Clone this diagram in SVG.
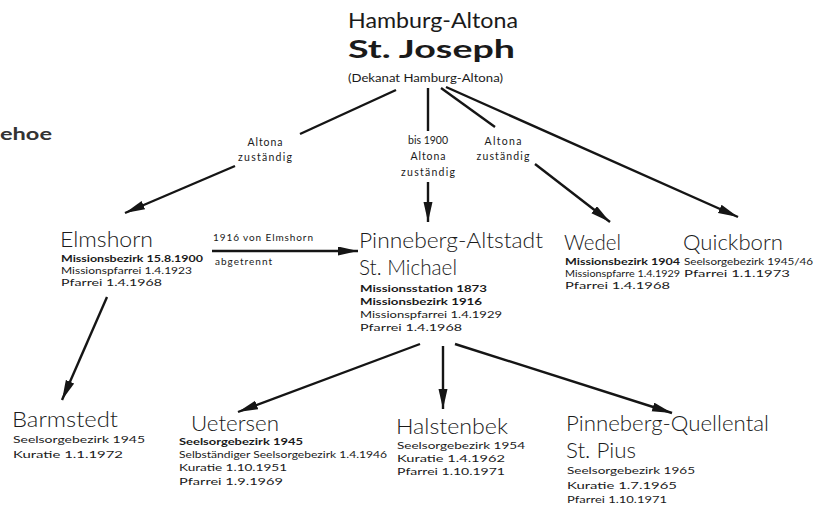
<svg xmlns="http://www.w3.org/2000/svg" width="815" height="507" viewBox="0 0 815 507">
<defs>
<marker id="ah" markerUnits="userSpaceOnUse" markerWidth="22" markerHeight="10" refX="20" refY="4.5" orient="auto">
<path d="M0,0 L20,4.5 L0,9 z" fill="#151515"/>
</marker>
<style>
text{font-family:"Lato","DejaVu Sans",sans-serif;fill:#1a1a1a}
.nm{font-size:22px;font-weight:300}
.d{font-size:10px}
.b{font-weight:bold}
.lb{font-size:10.5px;text-anchor:middle}
.c{stroke:#151515;stroke-width:2.4;fill:none}
.a{marker-end:url(#ah)}
</style>
</defs>
<rect width="815" height="507" fill="#fff"/>
<text x="0" y="140" style="font-size:17px;font-weight:bold;fill:#333" textLength="52" lengthAdjust="spacingAndGlyphs">ehoe</text>
<g id="connectors">
<line class="c" x1="396" y1="90" x2="300" y2="134"/>
<line class="c a" x1="235" y1="166" x2="125" y2="213"/>
<line class="c" x1="428" y1="88" x2="428" y2="131"/>
<line class="c a" x1="428" y1="182" x2="428" y2="222"/>
<line class="c" x1="441" y1="88" x2="495" y2="127"/>
<line class="c a" x1="535" y1="164" x2="610" y2="222"/>
<line class="c a" x1="446" y1="87" x2="738" y2="217"/>
<line class="c a" x1="212" y1="251" x2="358" y2="251"/>
<line class="c a" x1="107" y1="297" x2="62" y2="400"/>
<line class="c a" x1="420" y1="344" x2="238" y2="412"/>
<line class="c a" x1="443" y1="346" x2="443" y2="409"/>
<line class="c a" x1="455" y1="344" x2="672" y2="413"/>
<text class="lb" x="265" y="146" textLength="35">Altona</text>
<text class="lb" x="265" y="161" textLength="54">zuständig</text>
<text class="lb" x="428" y="144" textLength="40">bis 1900</text>
<text class="lb" x="428" y="160" textLength="35">Altona</text>
<text class="lb" x="428" y="176" textLength="54">zuständig</text>
<text class="lb" x="503" y="145" textLength="37">Altona</text>
<text class="lb" x="503" y="160" textLength="53">zuständig</text>
<text class="d" x="213" y="241" textLength="100">1916 von Elmshorn</text>
<text class="d" x="215" y="265" textLength="57">abgetrennt</text>
</g>
<g id="stjoseph">
<text x="348" y="28" style="font-size:22px" textLength="170" lengthAdjust="spacingAndGlyphs">Hamburg-Altona</text>
<text x="348" y="58" style="font-size:25px;font-weight:bold" textLength="167" lengthAdjust="spacingAndGlyphs">St. Joseph</text>
<text x="348" y="82" style="font-size:10.5px" textLength="155" lengthAdjust="spacingAndGlyphs">(Dekanat Hamburg-Altona)</text>
</g>
<g id="elmshorn">
<text class="nm" x="60" y="247" textLength="93" lengthAdjust="spacingAndGlyphs">Elmshorn</text>
<text class="d b" x="61" y="262" textLength="142" lengthAdjust="spacingAndGlyphs">Missionsbezirk  15.8.1900</text>
<text class="d" x="61" y="274" textLength="131" lengthAdjust="spacingAndGlyphs">Missionspfarrei   1.4.1923</text>
<text class="d" x="61" y="286" textLength="101" lengthAdjust="spacingAndGlyphs">Pfarrei  1.4.1968</text>
</g>
<g id="pinneberg-altstadt">
<text class="nm" x="359" y="248" textLength="184" lengthAdjust="spacingAndGlyphs">Pinneberg-Altstadt</text>
<text class="nm" x="359" y="275" textLength="98" lengthAdjust="spacingAndGlyphs">St. Michael</text>
<text class="d b" x="360" y="292" textLength="127" lengthAdjust="spacingAndGlyphs">Missionsstation   1873</text>
<text class="d b" x="360" y="305" textLength="122" lengthAdjust="spacingAndGlyphs">Missionsbezirk    1916</text>
<text class="d" x="360" y="318" textLength="142" lengthAdjust="spacingAndGlyphs">Missionspfarrei   1.4.1929</text>
<text class="d" x="360" y="331" textLength="102" lengthAdjust="spacingAndGlyphs">Pfarrei    1.4.1968</text>
</g>
<g id="wedel">
<text class="nm" x="564" y="250" textLength="57" lengthAdjust="spacingAndGlyphs">Wedel</text>
<text class="d b" x="565" y="265" textLength="115" lengthAdjust="spacingAndGlyphs">Missionsbezirk 1904</text>
<text class="d" x="565" y="277" textLength="115" lengthAdjust="spacingAndGlyphs">Missionspfarre 1.4.1929</text>
<text class="d" x="565" y="289" textLength="105" lengthAdjust="spacingAndGlyphs">Pfarrei     1.4.1968</text>
</g>
<g id="quickborn">
<text class="nm" x="683" y="250" textLength="100" lengthAdjust="spacingAndGlyphs">Quickborn</text>
<text class="d" x="684" y="265" textLength="129" lengthAdjust="spacingAndGlyphs">Seelsorgebezirk  1945/46</text>
<text class="d" x="684" y="277" textLength="106" lengthAdjust="spacingAndGlyphs">Pfarrei     1.1.1973</text>
</g>
<g id="barmstedt">
<text class="nm" x="12" y="427" textLength="106" lengthAdjust="spacingAndGlyphs">Barmstedt</text>
<text class="d" x="13" y="443" textLength="132" lengthAdjust="spacingAndGlyphs">Seelsorgebezirk    1945</text>
<text class="d" x="13" y="458" textLength="110" lengthAdjust="spacingAndGlyphs">Kuratie     1.1.1972</text>
</g>
<g id="uetersen">
<text class="nm" x="191" y="431" textLength="88" lengthAdjust="spacingAndGlyphs">Uetersen</text>
<text class="d b" x="179" y="445" textLength="124" lengthAdjust="spacingAndGlyphs">Seelsorgebezirk    1945</text>
<text class="d" x="179" y="458" textLength="208" lengthAdjust="spacingAndGlyphs">Selbständiger Seelsorgebezirk 1.4.1946</text>
<text class="d" x="179" y="471" textLength="108" lengthAdjust="spacingAndGlyphs">Kuratie    1.10.1951</text>
<text class="d" x="179" y="485" textLength="104" lengthAdjust="spacingAndGlyphs">Pfarrei    1.9.1969</text>
</g>
<g id="halstenbek">
<text class="nm" x="396" y="434" textLength="112" lengthAdjust="spacingAndGlyphs">Halstenbek</text>
<text class="d" x="397" y="449" textLength="128" lengthAdjust="spacingAndGlyphs">Seelsorgebezirk    1954</text>
<text class="d" x="397" y="462" textLength="108" lengthAdjust="spacingAndGlyphs">Kuratie      1.4.1962</text>
<text class="d" x="397" y="475" textLength="108" lengthAdjust="spacingAndGlyphs">Pfarrei    1.10.1971</text>
</g>
<g id="pinneberg-quellental">
<text class="nm" x="566" y="431" textLength="203" lengthAdjust="spacingAndGlyphs">Pinneberg-Quellental</text>
<text class="nm" x="566" y="458" textLength="70" lengthAdjust="spacingAndGlyphs">St. Pius</text>
<text class="d" x="567" y="474" textLength="128" lengthAdjust="spacingAndGlyphs">Seelsorgebezirk    1965</text>
<text class="d" x="567" y="489" textLength="110" lengthAdjust="spacingAndGlyphs">Kuratie    1.7.1965</text>
<text class="d" x="567" y="503" textLength="100" lengthAdjust="spacingAndGlyphs">Pfarrei    1.10.1971</text>
</g>
</svg>
